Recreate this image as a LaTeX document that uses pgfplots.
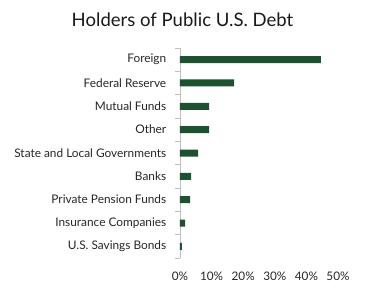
\documentclass[border=0pt]{standalone}
\usepackage{pgfplots}
\pgfplotsset{compat=1.18}
\usepackage{fontspec}
\setmainfont{Lato}
\definecolor{bargreen}{HTML}{1E5130}
\definecolor{axisgray}{HTML}{BFBFBF}
\begin{document}
\begin{tikzpicture}[x=1bp,y=1bp]
\useasboundingbox (-180bp,-36bp) rectangle (185bp,258bp);
\node[font=\fontsize{18.6}{20}\selectfont, text=black!90] at (2.5bp,238bp) {Holders of Public U.S. Debt};
\begin{axis}[
  at={(0bp,0bp)}, anchor=south west,
  scale only axis,
  width=158bp, height=210bp,
  xmin=0, xmax=50, ymin=-0.5, ymax=8.5,
  xbar, bar width=7bp,
  axis x line*=bottom, axis y line*=left,
  x axis line style={draw=none},
  y axis line style={draw=axisgray, line width=0.8pt},
  xtick={0,10,20,30,40,50},
  xticklabels={0\%,10\%,20\%,30\%,40\%,50\%},
  xtick style={draw=none},
  xticklabel style={font=\fontsize{11.8}{12}\selectfont, text=black!85, yshift=-6bp},
  ytick={0,...,8},
  yticklabels={U.S. Savings Bonds,Insurance Companies,Private Pension Funds,Banks,State and Local Governments,Other,Mutual Funds,Federal Reserve,Foreign},
  yticklabel style={font=\fontsize{11.9}{12}\selectfont, text=black!85, xshift=-6bp},
  major y tick style={draw=none},
  minor ytick={-0.5,0.5,...,8.5},
  minor y tick style={draw=axisgray, line width=0.8pt},
  minor tick length=5bp,
  tick align=outside,
  clip=false,
]
\addplot[fill=bargreen, draw=none] coordinates {
(0.6,0) (1.6,1) (3.2,2) (3.5,3) (5.7,4) (9.2,5) (9.2,6) (17.1,7) (44.6,8)
};
\end{axis}
\end{tikzpicture}
\end{document}
